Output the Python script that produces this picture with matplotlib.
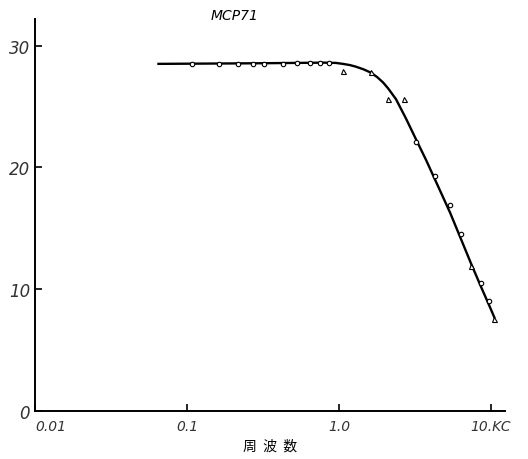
import matplotlib
matplotlib.use("Agg")
import matplotlib.pyplot as plt

# measured points (frequency in Mc, response)
circ_freq = [0.108, 0.162, 0.216, 0.272, 0.321, 0.428, 0.529, 0.644, 0.75, 0.86,
             3.21, 4.28, 5.37, 6.35, 8.59, 9.7]
circ_val = [28.5, 28.5, 28.5, 28.5, 28.5, 28.5, 28.55, 28.55, 28.6, 28.6,
            22.1, 19.3, 16.9, 14.5, 10.5, 9.0]
tri_freq = [1.06, 1.62, 2.11, 2.69, 7.39, 10.5]
tri_val = [27.9, 27.8, 25.6, 25.6, 11.9, 7.6]

# hand-drawn fitted curve
curve_freq = [0.065, 0.3, 0.8, 0.95, 1.06, 1.18, 1.29, 1.45, 1.62, 1.78, 1.95,
              2.1, 2.37, 2.76, 3.21, 3.74, 4.28, 5.37, 6.35, 7.39, 8.59, 9.7, 10.5]
curve_val = [28.5, 28.55, 28.6, 28.58, 28.5, 28.4, 28.27, 28.05, 27.78, 27.42, 26.97,
             26.5, 25.6, 24.0, 22.3, 20.6, 19.0, 16.3, 14.1, 12.1, 10.2, 8.7, 7.7]

xticks = [0.01, 0.1, 1.0, 10.0]
xtick_labels = ["0.01", "0.1", "1.0", "10.KC"]
yticks = [0, 10, 20, 30]

fig = plt.figure(figsize=(5.28, 4.6), dpi=100)
ax = fig.add_axes([0.066, 0.104, 0.89, 0.853])

ax.plot(curve_freq, curve_val, color="black", lw=1.7, zorder=2,
        solid_joinstyle="round")
ax.plot(circ_freq, circ_val, "o", ms=3.2, mfc="white", mec="black", mew=0.8, zorder=3)
ax.plot(tri_freq, tri_val, "^", ms=3.6, mfc="white", mec="black", mew=0.8, zorder=3)

ax.set_xscale("log")
ax.set_xlim(0.01, 12.3)
ax.set_ylim(0, 32.2)
for s in ["top", "right"]:
    ax.spines[s].set_visible(False)
for s in ["left", "bottom"]:
    ax.spines[s].set_linewidth(1.4)

ax.set_xticks(xticks)
ax.set_xticklabels(xtick_labels, fontstyle="italic", fontsize=10, color="#333333")
ax.get_xticklabels()[0].set_ha("left")
ax.minorticks_off()
ax.set_yticks(yticks)
ax.set_yticklabels([str(v) for v in yticks], fontstyle="italic", fontsize=12, color="#333333")
ax.tick_params(direction="in", length=5, width=1.2)
ax.tick_params(axis="x", pad=6)

ax.set_xlabel("周  波  数", family=["Noto Sans CJK JP", "DejaVu Sans"], fontsize=10, labelpad=4)
fig.text(0.445, 0.965, "MCP71", fontstyle="italic", fontsize=10, ha="center", va="center")

fig.savefig("out.png", dpi=100)
